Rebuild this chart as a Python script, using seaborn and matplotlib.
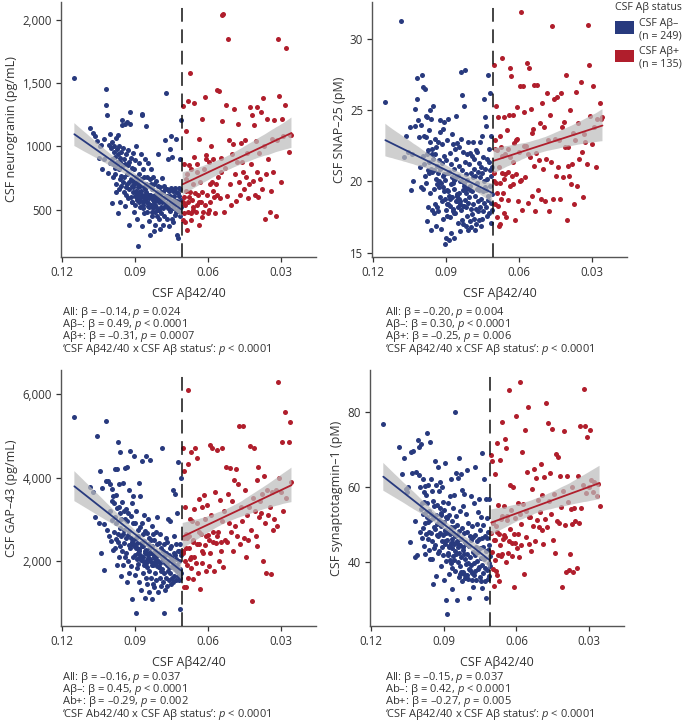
import matplotlib
matplotlib.use("Agg")
import matplotlib.pyplot as plt
from matplotlib.legend_handler import HandlerPatch
from matplotlib.patches import Patch, Rectangle
import pandas as pd
import seaborn as sns

# ── Data ───────────────────────────────────────────────
# CSF Aβ42/40 ratio per participant, shared by all four panels
ratio_neg = [
    .1150, .1085, .1072, .1066, .1058, .1050, .1046, .1041, .1037, .1030, .1026, .1021,
    .1018, .1014, .1011, .1007, .1004, .1002, .0999, .0997, .0995, .0993, .0991, .0989,
    .0987, .0986, .0984, .0983, .0982, .0980, .0979, .0977, .0976, .0975, .0973, .0972,
    .0971, .0969, .0968, .0967, .0965, .0964, .0962, .0961, .0960, .0958, .0957, .0956,
    .0954, .0953, .0951, .0950, .0949, .0947, .0946, .0945, .0943, .0942, .0940, .0939,
    .0938, .0936, .0935, .0934, .0932, .0931, .0929, .0928, .0927, .0925, .0924, .0923,
    .0921, .0920, .0918, .0917, .0916, .0914, .0913, .0912, .0910, .0909, .0907, .0906,
    .0905, .0903, .0902, .0901, .0899, .0898, .0896, .0895, .0894, .0892, .0891, .0890,
    .0888, .0887, .0885, .0884, .0883, .0881, .0880, .0879, .0877, .0876, .0874, .0873,
    .0872, .0870, .0869, .0868, .0866, .0865, .0863, .0862, .0861, .0859, .0858, .0857,
    .0855, .0854, .0852, .0851, .0850, .0848, .0847, .0846, .0844, .0843, .0841, .0840,
    .0839, .0837, .0836, .0835, .0833, .0832, .0830, .0829, .0828, .0826, .0825, .0824,
    .0822, .0821, .0819, .0818, .0817, .0815, .0814, .0813, .0811, .0810, .0808, .0807,
    .0806, .0804, .0803, .0802, .0800, .0799, .0797, .0796, .0795, .0793, .0792, .0791,
    .0789, .0788, .0786, .0785, .0784, .0782, .0781, .0780, .0778, .0777, .0775, .0774,
    .0773, .0771, .0770, .0769, .0767, .0766, .0764, .0763, .0762, .0760, .0759, .0758,
    .0756, .0755, .0753, .0752, .0751, .0749, .0748, .0747, .0745, .0744, .0742, .0741,
    .0740, .0738, .0737, .0736, .0734, .0733, .0731, .0730, .0729, .0727, .0726, .0725,
    .0723, .0722, .0720, .0719, .0718, .0716, .0715, .0714, .0713, .0712, .0711, .0710,
    .0912, .0897, .0889, .0878, .0871, .0866, .0860, .0853, .0845, .0838, .0831, .0820,
    .0909, .0893, .0882, .0867, .0856, .0842, .0827, .0816, .0801,
]
ratio_pos = [
    .0704, .0702, .0700, .0698, .0696, .0694, .0692, .0690, .0688, .0686, .0684, .0682,
    .0680, .0677, .0675, .0672, .0670, .0668, .0665, .0663, .0660, .0658, .0656, .0653,
    .0650, .0647, .0644, .0641, .0638, .0635, .0632, .0629, .0626, .0623, .0620, .0617,
    .0614, .0611, .0607, .0604, .0600, .0597, .0593, .0590, .0586, .0583, .0579, .0576,
    .0572, .0568, .0564, .0560, .0556, .0552, .0548, .0544, .0540, .0536, .0532, .0528,
    .0524, .0520, .0516, .0512, .0508, .0504, .0500, .0496, .0492, .0488, .0484, .0480,
    .0476, .0472, .0468, .0464, .0460, .0456, .0452, .0448, .0444, .0440, .0436, .0432,
    .0428, .0424, .0420, .0416, .0412, .0408, .0404, .0400, .0396, .0392, .0388, .0384,
    .0380, .0376, .0372, .0368, .0364, .0360, .0356, .0351, .0346, .0341, .0336, .0331,
    .0326, .0321, .0316, .0311, .0306, .0301, .0296, .0290, .0284, .0277, .0268, .0262,
    .0703, .0697, .0689, .0679, .0669, .0661, .0646, .0637, .0625, .0609, .0595, .0581,
    .0562, .0546, .0256,
]

neurogranin_neg = [
    1545, 1145, 1110, 1080, 1040, 905, 1000, 1010, 820, 1060, 900, 1452,
    1330, 1245, 790, 1010, 870, 1095, 985, 550, 900, 1035, 760, 860,
    1000, 960, 830, 920, 780, 700, 1065, 640, 880, 980, 860, 470,
    940, 1090, 820, 660, 1000, 740, 910, 560, 880, 770, 690, 960,
    1210, 1170, 850, 720, 990, 640, 900, 760, 530, 860, 1180, 680,
    620, 940, 780, 1190, 700, 850, 590, 970, 720, 380, 880, 660,
    1270, 1180, 740, 910, 600, 830, 690, 560, 950, 640, 730, 480,
    820, 700, 610, 890, 540, 760, 650, 1000, 580, 720, 430, 680,
    210, 620, 780, 560, 870, 690, 600, 520, 940, 650, 740, 370,
    1260, 1250, 600, 820, 540, 680, 760, 470, 620, 900, 580, 700,
    1160, 640, 560, 760, 480, 620, 870, 530, 690, 410, 590, 740,
    300, 620, 820, 540, 700, 450, 600, 660, 510, 760, 580, 330,
    560, 700, 480, 620, 380, 590, 730, 520, 640, 450, 580, 690,
    940, 500, 610, 430, 560, 680, 350, 590, 520, 640, 470, 560,
    570, 750, 510, 640, 380, 690, 590, 450, 660, 530, 1050, 610,
    1425, 550, 660, 430, 610, 510, 900, 590, 370, 650, 540, 980,
    610, 490, 1080, 570, 670, 430, 550, 920, 510, 650, 400, 580,
    530, 610, 460, 670, 550, 1060, 480, 640, 300, 570, 500, 630,
    280, 550, 670, 490, 610, 900, 530, 660, 450, 580, 1210, 520,
    560, 640, 700, 580, 620, 510, 660, 590, 550, 620, 480, 600,
    680, 590, 640, 560, 600, 520, 610, 540, 500,
]
neurogranin_pos = [
    420, 1320, 600, 860, 400, 540, 1120, 650, 340, 780, 480, 1360,
    560, 850, 640, 1580, 470, 820, 580, 700, 500, 920, 1340, 630,
    480, 860, 540, 620, 1060, 380, 720, 560, 1220, 640, 480, 820,
    540, 1390, 930, 620, 470, 880, 700, 560, 1000, 720, 900, 600,
    470, 700, 1450, 760, 1440, 590, 910, 2040, 1200, 2050, 480, 830,
    1330, 610, 1850, 1050, 700, 540, 940, 1020, 1300, 780, 570, 880,
    1180, 720, 620, 1030, 880, 800, 660, 1050, 760, 950, 590, 700,
    1310, 860, 1250, 730, 1170, 620, 1040, 800, 1310, 600, 950, 740,
    1270, 660, 1380, 1000, 430, 780, 1220, 900, 480, 650, 1060, 800,
    1210, 450, 1050, 1850, 1400, 720, 1220, 1080, 1330, 1780, 960, 1090,
    560, 470, 740, 600, 420, 520, 800, 560, 440, 900, 500, 650,
    620, 800, 1090,
]

snap25_neg = [
    25.6, 31.3, 21.7, 23.2, 22.1, 23.8, 19.4, 21.9, 20.0, 23.9, 25.1, 25.8,
    27.3, 24.3, 23.1, 21.0, 19.6, 24.0, 27.5, 21.8, 19.5, 26.6, 23.2, 21.2,
    26.5, 20.4, 24.6, 19.9, 23.1, 21.9, 17.2, 24.5, 20.8, 22.2, 18.2, 23.6,
    20.6, 21.4, 25.0, 19.2, 22.8, 16.6, 20.9, 24.4, 18.0, 21.9, 20.7, 22.3,
    21.6, 25.3, 19.5, 17.8, 20.8, 23.0, 18.4, 21.9, 16.9, 20.2, 22.4, 19.8,
    21.1, 18.2, 20.6, 22.8, 17.9, 20.0, 21.5, 19.6, 23.5, 18.9, 20.9, 24.3,
    16.7, 19.9, 21.3, 18.6, 22.6, 20.4, 17.4, 23.7, 19.3, 21.8, 24.2, 18.8,
    15.6, 20.1, 18.0, 21.5, 16.0, 19.4, 22.9, 17.6, 20.6, 18.4, 24.4, 19.0,
    15.9, 20.7, 18.3, 22.0, 17.5, 19.8, 21.2, 16.4, 23.3, 18.9, 20.3, 17.9,
    22.6, 18.1, 20.9, 16.0, 19.5, 22.3, 17.8, 20.2, 24.6, 18.6, 21.6, 19.1,
    19.0, 22.7, 18.2, 20.4, 17.1, 21.1, 18.8, 22.4, 16.5, 20.0, 18.4, 23.0,
    27.7, 18.0, 20.8, 17.3, 26.1, 19.4, 22.1, 17.0, 19.9, 25.3, 18.3, 21.4,
    27.8, 18.7, 20.5, 16.9, 19.2, 21.9, 17.6, 20.1, 18.5, 22.8, 16.6, 19.6,
    18.9, 21.2, 17.2, 19.7, 22.0, 18.1, 20.6, 16.8, 19.3, 21.8, 17.7, 20.3,
    22.8, 18.4, 20.9, 17.4, 21.6, 19.0, 16.6, 20.4, 18.1, 22.2, 17.0, 19.5,
    19.9, 22.1, 17.9, 20.7, 18.6, 21.3, 17.3, 19.4, 22.8, 18.2, 20.3, 16.9,
    21.0, 18.8, 23.2, 17.4, 20.6, 19.3, 21.7, 17.9, 20.0, 18.5, 25.8, 19.6,
    24.5, 20.9, 18.2, 23.9, 19.4, 17.6, 21.6, 20.2, 18.7, 27.5, 19.0, 22.3,
    21.4, 17.8, 26.2, 19.7, 20.8, 18.5, 23.2, 17.1, 20.4, 19.1, 21.0, 18.0,
    19.6, 18.4, 20.7, 18.9, 19.9, 17.8, 20.3, 18.6, 19.2, 20.0, 18.3, 19.5,
    20.5, 19.3, 18.8, 20.1, 19.0, 18.6, 19.7, 18.2, 19.4,
]
snap25_pos = [
    28.2, 20.0, 22.3, 18.4, 25.3, 19.9, 17.5, 22.2, 18.3, 24.5, 21.0, 16.9,
    19.9, 17.0, 22.4, 18.8, 20.6, 28.7, 19.2, 24.5, 17.8, 21.9, 20.5, 17.5,
    23.6, 18.7, 20.7, 24.7, 28.0, 21.7, 27.4, 20.4, 19.8, 24.7, 22.7, 17.3,
    22.9, 20.5, 25.2, 18.6, 22.1, 26.7, 20.1, 31.9, 18.0, 26.7, 24.9, 20.3,
    22.5, 28.3, 18.5, 28.0, 21.7, 25.1, 19.0, 23.7, 21.1, 26.8, 17.9, 22.0,
    26.8, 19.4, 21.5, 24.1, 18.8, 25.5, 20.9, 23.8, 18.6, 21.6, 26.2, 22.9,
    17.9, 24.7, 21.4, 30.9, 18.8, 25.8, 23.0, 20.4, 25.9, 21.0, 22.9, 18.8,
    26.2, 23.8, 20.3, 24.2, 22.4, 27.5, 17.3, 21.1, 22.4, 20.4, 25.0, 19.8,
    21.2, 23.4, 18.4, 22.9, 26.3, 19.7, 24.1, 21.6, 27.0, 22.1, 18.9, 23.3,
    22.8, 21.2, 31.0, 28.2, 24.6, 22.6, 26.7, 23.8, 21.0, 24.4, 25.5, 24.4,
    20.6, 22.9, 19.2, 23.2, 21.8, 20.2, 22.3, 19.7, 21.4, 23.0, 20.0, 22.5,
    21.9, 23.4, 24.5,
]

gap43_neg = [
    5450, 3780, 3650, 3060, 5000, 2920, 4150, 2200, 3740, 2880, 1780, 5360,
    3930, 2740, 3920, 2600, 3850, 3200, 2480, 3450, 2980, 3720, 2260, 3560,
    3400, 2700, 4200, 2320, 3050, 3580, 2520, 2900, 4200, 1900, 3260, 2650,
    4850, 2460, 3300, 2100, 3850, 2780, 3150, 2350, 4620, 2600, 3000, 1650,
    2250, 3420, 2640, 3880, 1900, 3200, 2750, 2420, 4230, 2100, 3000, 2550,
    3250, 2180, 2960, 1500, 4250, 2620, 2000, 3160, 2380, 3700, 2720, 1720,
    4640, 2300, 3080, 1880, 2560, 3380, 1080, 2450, 2900, 2100, 3560, 2360,
    4530, 2380, 1660, 2920, 2150, 2560, 740, 3200, 2050, 2440, 1820, 2740,
    1920, 2600, 3860, 2280, 1500, 2820, 2150, 3550, 1300, 2420, 2030, 2900,
    4400, 2100, 2640, 1700, 2350, 3100, 1900, 2480, 1100, 2720, 2200, 1600,
    4530, 2260, 1850, 2680, 1450, 2400, 3000, 2080, 1750, 2560, 1250, 2300,
    4420, 2000, 2500, 1600, 2200, 2850, 1080, 2350, 1900, 2650, 1450, 2150,
    1380, 2500, 1950, 2240, 1700, 2700, 2100, 1550, 2400, 1880, 3050, 2180,
    2000, 1250, 2420, 1850, 2150, 1600, 2650, 1950, 1400, 2300, 1750, 2100,
    4720, 1800, 2250, 1500, 2050, 760, 2400, 1700, 2150, 1300, 1950, 2550,
    1600, 2200, 1900, 2450, 1400, 2000, 3000, 1750, 2150, 1550, 1850, 2300,
    2950, 1700, 2100, 1450, 2350, 1850, 1600, 2050, 3700, 1500, 1950, 2200,
    2600, 1650, 2150, 3600, 1800, 2400, 1550, 2050, 1750, 3150, 1900, 2250,
    4380, 1650, 2000, 1550, 2250, 855, 1800, 2400, 1600, 4000, 1700, 2150,
    2400, 2300, 2200, 2100, 2350, 2000, 2250, 1950, 2150, 2050, 1900, 2100,
    2500, 2300, 2250, 2100, 2000, 2200, 1950, 2050, 1850,
]
gap43_pos = [
    2250, 4720, 1380, 4150, 2000, 3300, 2650, 1380, 1900, 2550, 1600, 4330,
    6100, 2300, 3000, 2040, 4620, 1820, 2950, 2500, 1560, 3250, 2100, 4720,
    1960, 4460, 2900, 1700, 3480, 2400, 1320, 2650, 3300, 1950, 2200, 3580,
    2380, 3000, 1760, 3350, 2620, 1880, 4780, 2180, 3100, 4700, 2450, 1750,
    3650, 2420, 4660, 2700, 2000, 3460, 2250, 4700, 2950, 1850, 3200, 2500,
    4250, 2450, 3600, 2900, 4220, 2700, 3450, 2250, 3950, 2850, 4200, 2600,
    3850, 5240, 2400, 3300, 2950, 5250, 2550, 3700, 2100, 3100, 2500, 3300,
    4750, 2750, 1050, 3500, 4700, 3200, 2600, 3950, 2350, 4250, 3050, 3450,
    3150, 3600, 2000, 4050, 2900, 1700, 3700, 3100, 3300, 1680, 3650, 2750,
    3000, 3700, 2850, 6300, 4000, 3650, 4850, 3200, 5580, 3500, 4860, 5340,
    2200, 2550, 2300, 2600, 2100, 2450, 2400, 2700, 2250, 2600, 2500, 2700,
    2600, 2450, 3900,
]

syt1_neg = [
    76.8, 70.7, 63.6, 67.8, 59.6, 58.8, 60.2, 45.3, 69.5, 63.9, 69.6, 41.3,
    51.0, 64.1, 41.9, 72.6, 70.8, 63.2, 48.2, 60.0, 54.3, 71.5, 46.5, 55.9,
    62.2, 52.8, 49.2, 58.8, 44.3, 56.2, 50.4, 60.3, 42.2, 53.5, 47.5, 57.9,
    55.8, 52.1, 74.6, 46.2, 50.8, 60.7, 43.2, 53.6, 48.1, 72.1, 41.0, 51.4,
    62.3, 47.9, 53.0, 45.8, 59.0, 40.8, 51.9, 56.4, 34.2, 49.3, 55.0, 43.7,
    48.8, 66.9, 44.6, 60.5, 52.6, 36.4, 50.1, 47.2, 55.4, 42.4, 65.3, 46.9,
    51.2, 58.9, 43.0, 54.5, 47.7, 61.4, 39.1, 49.6, 53.2, 45.6, 60.0, 44.2,
    47.3, 56.1, 42.0, 50.7, 35.3, 53.9, 45.0, 66.5, 48.7, 40.3, 52.1, 29.9,
    26.2, 46.0, 51.8, 42.6, 55.7, 48.2, 37.0, 52.6, 44.4, 57.8, 40.6, 47.5,
    62.1, 45.2, 39.8, 50.9, 43.7, 33.0, 47.8, 54.4, 41.7, 49.5, 58.0, 44.9,
    80.1, 46.9, 37.6, 63.7, 42.3, 52.3, 45.8, 29.9, 50.0, 40.1, 62.6, 44.1,
    67.8, 48.4, 36.2, 44.7, 53.7, 38.9, 46.2, 63.5, 41.3, 49.1, 35.0, 59.2,
    43.2, 54.9, 37.4, 47.7, 36.8, 58.3, 41.0, 45.3, 35.8, 52.8, 39.6, 44.8,
    64.5, 36.5, 48.0, 42.1, 35.5, 50.5, 38.2, 44.3, 30.6, 47.0, 37.9, 41.4,
    57.8, 39.3, 45.9, 35.2, 49.8, 37.2, 42.8, 33.4, 46.8, 39.9, 55.7, 36.7,
    65.4, 41.9, 47.2, 37.7, 44.1, 35.4, 50.2, 40.4, 45.6, 38.3, 53.4, 42.7,
    46.1, 38.8, 56.8, 36.0, 43.9, 48.6, 35.1, 41.2, 52.1, 39.3, 46.4, 33.2,
    69.2, 44.0, 37.1, 49.9, 40.9, 62.3, 35.0, 47.1, 38.5, 56.9, 42.9, 30.5,
    51.7, 38.0, 46.6, 35.6, 43.4, 48.1, 39.7, 57.0, 36.3, 44.6, 41.8, 38.9,
    52.5, 45.7, 47.9, 44.2, 49.3, 38.6, 45.1, 43.0, 47.4, 42.5, 36.9, 44.0,
    50.8, 48.4, 41.9, 46.3, 40.7, 44.9, 37.5, 42.2, 39.8,
]
syt1_pos = [
    68.5, 42.8, 67.0, 38.3, 50.6, 33.8, 46.0, 63.6, 40.6, 37.7, 49.8, 36.5,
    71.9, 42.0, 55.3, 35.1, 47.5, 67.3, 41.8, 51.6, 77.3, 42.3, 46.3, 55.0,
    47.2, 73.0, 40.1, 70.4, 52.3, 42.4, 85.9, 45.7, 60.5, 53.9, 45.2, 41.6,
    60.0, 33.3, 51.9, 45.2, 78.9, 43.8, 47.6, 41.3, 88.2, 53.0, 44.7, 69.4,
    55.6, 36.8, 75.4, 46.7, 64.2, 81.5, 45.0, 52.1, 43.1, 59.5, 49.8, 65.0,
    45.6, 62.6, 51.4, 56.7, 49.3, 53.4, 66.1, 48.7, 57.9, 44.8, 62.8, 51.6,
    82.5, 49.4, 77.1, 56.3, 63.7, 53.0, 75.6, 45.9, 58.2, 42.6, 68.8, 51.0,
    68.2, 50.4, 63.1, 54.7, 33.3, 59.0, 75.0, 49.9, 37.4, 62.9, 56.1, 38.0,
    42.3, 54.2, 50.2, 60.0, 37.4, 54.4, 51.1, 38.5, 63.0, 50.5, 76.4, 54.6,
    60.6, 86.1, 76.4, 58.5, 73.5, 60.1, 75.2, 62.0, 58.8, 61.4, 57.8, 60.9,
    47.8, 50.4, 45.9, 48.1, 44.5, 52.4, 46.8, 51.2, 49.0, 47.5, 55.9, 50.1,
    53.7, 52.0, 55.0,
]

status_labels = ["CSF Aβ–\n(n = 249)", "CSF Aβ+\n(n = 135)"]
x_ticks = [0.12, 0.09, 0.06, 0.03]
x_ticklabels = ["0.12", "0.09", "0.06", "0.03"]
cutoff = 0.0708

panels = [
    dict(neg=neurogranin_neg, pos=neurogranin_pos,
         ylabel="CSF neurogranin (pg/mL)", ylim=(126, 2142),
         yticks=[500, 1000, 1500, 2000],
         yticklabels=["500", "1000", "1,500", "2,000"],
         notes=["All: β = –0.14, $p$ = 0.024",
                "Aβ–: β = 0.49, $p$ < 0.0001",
                "Aβ+: β = –0.31, $p$ = 0.0007",
                "‘CSF Aβ42/40 x CSF Aβ status’: $p$ < 0.0001"]),
    dict(neg=snap25_neg, pos=snap25_pos,
         ylabel="CSF SNAP–25 (pM)", ylim=(14.7, 32.6),
         yticks=[15, 20, 25, 30], yticklabels=["15", "20", "25", "30"],
         notes=["All: β = –0.20, $p$ = 0.004",
                "Aβ–: β = 0.30, $p$ < 0.0001",
                "Aβ+: β = –0.25, $p$ = 0.006",
                "‘CSF Aβ42/40 x CSF Aβ status’: $p$ < 0.0001"]),
    dict(neg=gap43_neg, pos=gap43_pos,
         ylabel="CSF GAP–43 (pg/mL)", ylim=(440, 6583),
         yticks=[2000, 4000, 6000], yticklabels=["2,000", "4,000", "6,000"],
         notes=["All: β = –0.16, $p$ = 0.037",
                "Aβ–: β = 0.45, $p$ < 0.0001",
                "Ab+: β = –0.29, $p$ = 0.002",
                "‘CSF Ab42/40 x CSF Aβ status’: $p$ < 0.0001"]),
    dict(neg=syt1_neg, pos=syt1_pos,
         ylabel="CSF synaptotagmin–1 (pM)", ylim=(23, 91.3),
         yticks=[40, 60, 80], yticklabels=["40", "60", "80"],
         notes=["All: β = –0.15, $p$ = 0.037",
                "Ab–: β = 0.42, $p$ < 0.0001",
                "Ab+: β = –0.27, $p$ = 0.005",
                "‘CSF Aβ42/40 x CSF Aβ status’: $p$ < 0.0001"]),
]

# ── Style ──────────────────────────────────────────────
BLUE = "#283a7e"
RED = "#b01e2c"
BAND = "#bdbdbd"
INK = "#333333"

sns.set_theme(style="ticks")
plt.rcParams["font.family"] = ["Open Sans", "DejaVu Sans"]
plt.rcParams["mathtext.fontset"] = "custom"
plt.rcParams["mathtext.rm"] = "Open Sans"
plt.rcParams["mathtext.it"] = "Open Sans:italic"

W, H = 685, 725
fig = plt.figure(figsize=(W / 100, H / 100), dpi=100)

# axes boxes in pixels: left, top, width, height
boxes = [(61, 2, 255, 255), (372, 2, 255, 255),
         (61, 370, 255, 256), (370, 370, 254, 256)]
note_x = [62, 385, 62, 385]
note_top = [305, 305, 670, 670]


class TopSwatch(HandlerPatch):
    """Legend swatch aligned with the first line of a two-line label."""

    def create_artists(self, legend, orig_handle, xdescent, ydescent,
                       width, height, fontsize, trans):
        h = 1.15 * fontsize
        rect = Rectangle((-xdescent, -ydescent + height - h), width, h,
                         facecolor=orig_handle.get_facecolor(),
                         edgecolor="none", transform=trans)
        return [rect]


def draw_group(ax, x, y, color):
    df = pd.DataFrame({"ratio": x, "value": y})
    sns.regplot(data=df, x="ratio", y="value", ax=ax, color=color,
                ci=95, n_boot=1000, seed=3, truncate=True,
                scatter_kws=dict(s=13, linewidths=0, alpha=1, zorder=1),
                line_kws=dict(lw=1.3, zorder=4))
    band = ax.collections[-1]
    band.set_facecolor(BAND)
    band.set_edgecolor("none")
    band.set_alpha(0.72)
    band.set_zorder(3)


for i, (p, (l, t, w, h)) in enumerate(zip(panels, boxes)):
    ax = fig.add_axes([l / W, 1 - (t + h) / H, w / W, h / H])
    draw_group(ax, ratio_neg, p["neg"], BLUE)
    draw_group(ax, ratio_pos, p["pos"], RED)
    ax.axvline(cutoff, color="#111111", lw=1.1, ls=(0, (9, 5)), zorder=5)

    ax.set_xlim(0.1205, 0.0155)
    ax.set_ylim(*p["ylim"])
    ax.set_xticks(x_ticks)
    ax.set_xticklabels(x_ticklabels)
    ax.set_yticks(p["yticks"])
    ax.set_yticklabels(p["yticklabels"])
    ax.set_xlabel("CSF Aβ42/40", fontsize=9, color=INK, labelpad=6)
    ax.set_ylabel(p["ylabel"], fontsize=9, color=INK, labelpad=3)
    ax.tick_params(labelsize=8.3, colors=INK, length=3.5, width=0.9, pad=3)
    sns.despine(ax=ax)
    for side in ("left", "bottom"):
        ax.spines[side].set_color("#555555")
        ax.spines[side].set_linewidth(1.0)

    fig.text(note_x[i] / W, 1 - note_top[i] / H, "\n".join(p["notes"]),
             fontsize=8.0, color=INK, va="top", ha="left", linespacing=0.72)

handles = [Patch(facecolor=BLUE, edgecolor="none"),
           Patch(facecolor=RED, edgecolor="none")]
leg = fig.legend(handles, status_labels, title="CSF Aβ status",
                 loc="upper left", bbox_to_anchor=(611 / W, 1.003),
                 frameon=False, fontsize=7.7, title_fontsize=7.7,
                 handlelength=1.75, handleheight=2.2, handletextpad=0.45,
                 labelspacing=0.45, alignment="left", borderaxespad=0,
                 handler_map={Patch: TopSwatch()})
for txt in leg.get_texts() + [leg.get_title()]:
    txt.set_color(INK)

fig.savefig("out.png", dpi=100)
